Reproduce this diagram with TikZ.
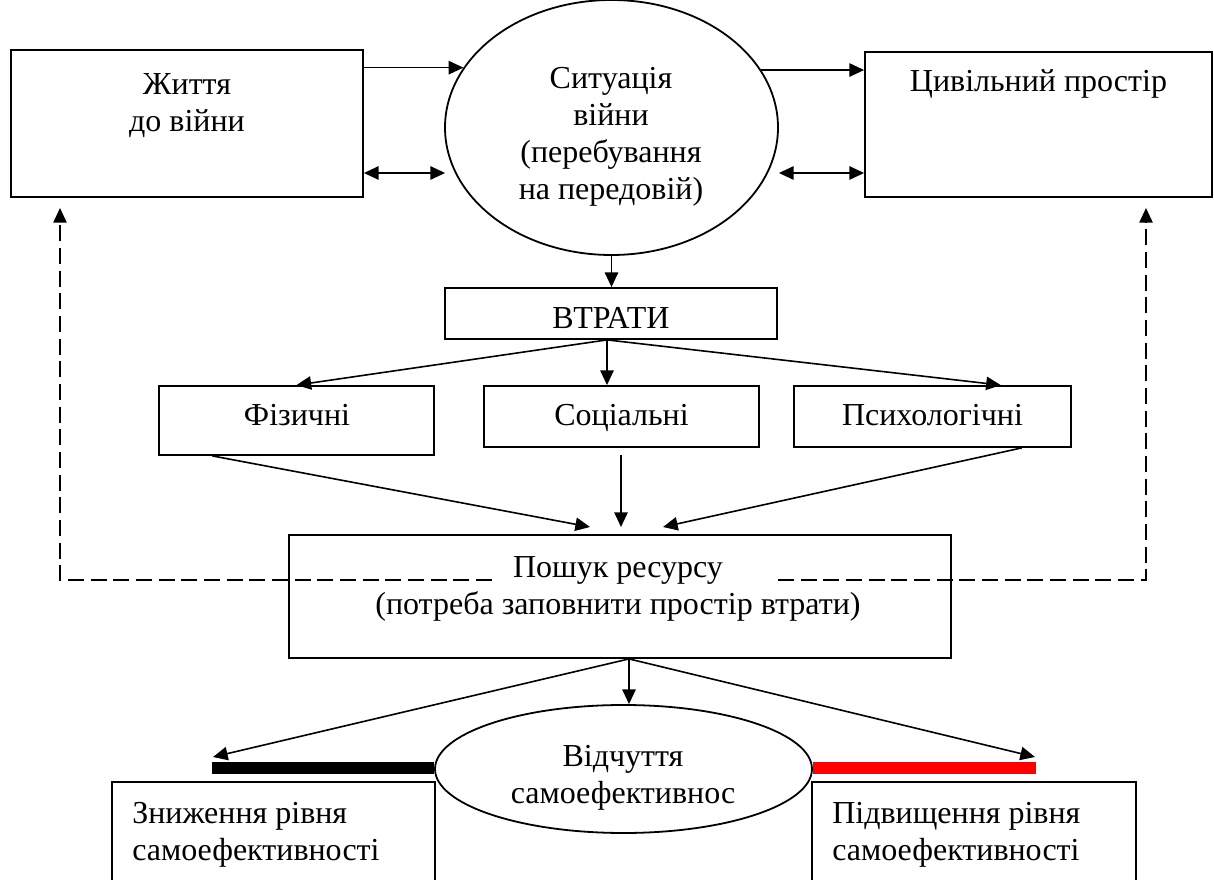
\documentclass[tikz,border=0pt]{standalone}
\usepackage{fontspec}
\setmainfont{Liberation Serif}
\usetikzlibrary{arrows.meta,calc,shapes.geometric}
\begin{document}
\begin{tikzpicture}[x=0.75pt,y=-0.75pt,
  font=\fontsize{24}{27.75}\selectfont,
  box/.style={draw, line width=1.35pt, inner sep=0pt, rectangle},
  oval/.style={draw, line width=1.35pt, inner sep=0pt, ellipse},
  txt/.style={inner sep=0pt, align=center},
  btxt/.style={inner sep=0pt, anchor=base},
  ltxt/.style={inner sep=0pt, align=left, anchor=west},
  arr/.style={line width=1.2pt, -{Triangle[length=11pt,width=10pt]}},
  darr/.style={line width=1.2pt, {Triangle[length=11pt,width=10pt]}-{Triangle[length=11pt,width=10pt]}},
  dasharr/.style={line width=1.2pt, dash pattern=on 12pt off 5pt, -{Triangle[length=11pt,width=10pt]}},
  bar/.style={line width=9pt},
]
\useasboundingbox (0,0) rectangle (1214,880);
\clip (0,0) rectangle (1214,880);

% shapes
\node[box, minimum width=264pt, minimum height=110.25pt] (life) at (187,123.5) {};
\node[txt] (lifeT) at (187,106) {Життя\\до війни};

\node[oval, minimum width=249.75pt, minimum height=191.25pt] (war) at (611.5,127.5) {};
\node[txt] (warT) at (611,136.5) {Ситуація\\війни\\(перебування\\на передовій)};

\node[box, minimum width=260.25pt, minimum height=108.75pt] (civ) at (1038.5,124.5) {};
\node[btxt] (civT) at (1038.5,92) {Цивільний простір};

\node[box, minimum width=249pt, minimum height=38.25pt] (loss) at (611,313.5) {};
\node[btxt] (lossT) at (611,328.5) {ВТРАТИ};

\node[box, minimum width=206.25pt, minimum height=51.75pt] (phys) at (296.5,420.5) {};
\node[btxt] (physT) at (297,426) {Фізичні};
\node[box, minimum width=206.25pt, minimum height=45.75pt] (soc) at (621.5,416.5) {};
\node[btxt] (socT) at (621.5,426) {Соціальні};
\node[box, minimum width=207.75pt, minimum height=45.75pt] (psy) at (932.5,416.5) {};
\node[btxt] (psyT) at (932.5,426) {Психологічні};

\node[box, minimum width=496.5pt, minimum height=92.25pt] (search) at (620,596.5) {};
\node[txt] (searchT) at (618,589) {Пошук ресурсу\\(потреба заповнити простір втрати)};

\node[oval, minimum width=282.75pt, minimum height=96pt] (feel) at (623.5,769) {};
\node[txt] (feelT) at (623,778) {Відчуття\\самоефективнос};

\node[box, minimum width=242.25pt, minimum height=76.5pt] (low) at (273.5,833) {};
\node[ltxt] (lowT) at (132,835) {Зниження рівня\\самоефективності};
\node[box, minimum width=243pt, minimum height=76.5pt] (high) at (974,833) {};
\node[ltxt] (highT) at (832,835) {Підвищення рівня\\самоефективності};

% bars
\coordinate (barL) at (212,768);
\coordinate (barR) at (1036,768);
\draw[bar, black] (barL) -- (barL -| feel.west);
\draw[bar, red] (barR -| feel.east) -- (barR);

% top connectors
\coordinate (wL) at ($(war.west)+(1,45.5)$);
\coordinate (wR) at ($(war.east)+(0,45.5)$);
\draw[arr] (life.east |- war.158.4) -- (war.158.4);
\draw[darr] (life.east |- wL) -- (wL);
\draw[arr] (war.21.6) -- (civ.west |- war.21.6);
\draw[darr] (wR) -- (civ.west |- wR);
\draw[arr] (war.south) -- (war.south |- loss.north);

% losses
\coordinate (lossB) at ($(loss.south)+(-4,0)$);
\draw[arr] (lossB) -- (phys.north);
\draw[arr] (lossB) -- (lossB |- soc.north);
\draw[arr] (lossB) -- ($(psy.north west)!0.745!(psy.north east)$);

% to search
\coordinate (sIn1) at (590,527);
\coordinate (sIn2) at (621,527);
\coordinate (sIn3) at (663,527);
\coordinate (socOut) at (621,455);
\draw[arr] ($(phys.south west)!0.196!(phys.south east)$) -- (sIn1);
\draw[arr] (socOut) -- (sIn2);
\draw[arr] ($(psy.south west)!0.82!(psy.south east)$) -- (sIn3);

% from search
\coordinate (sOut) at ($(search.south)+(9,0)$);
\coordinate (lowTip) at (213,757);
\coordinate (highTip) at (1035,757);
\draw[arr] (sOut) -- (lowTip);
\draw[arr] (sOut) -- (sOut |- feel.north);
\draw[arr] (sOut) -- (highTip);

% dashed feedback
\coordinate (dL) at (492,580);
\coordinate (dLe) at (60,208);
\coordinate (dR) at (778,580);
\coordinate (dRe) at (1146,208);
\draw[dasharr] (dL) -| (dLe);
\draw[dasharr] (dR) -| (dRe);
\end{tikzpicture}
\end{document}
